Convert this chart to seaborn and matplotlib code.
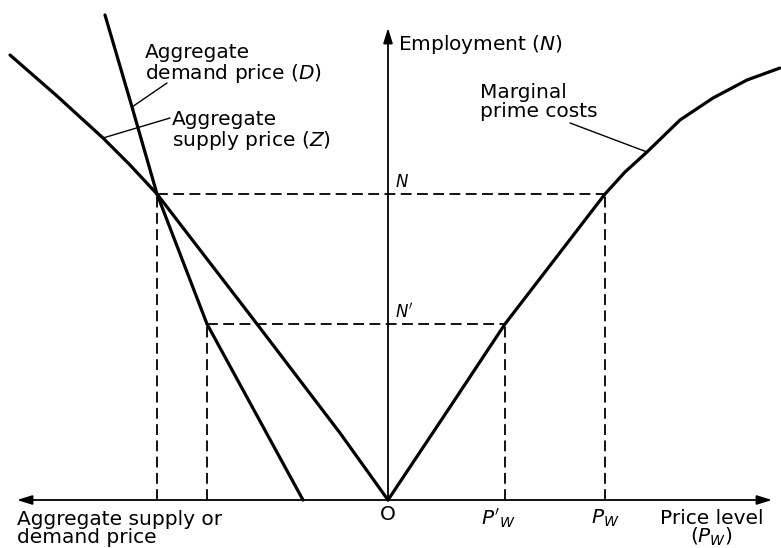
import numpy as np
import pandas as pd
import seaborn as sns
import matplotlib.pyplot as plt

# curve readings (x: price, left negative = aggregate supply/demand price; y: employment)
d_x = [-2.83, -2.56, -2.31, -2.06, -1.81, -1.33, -0.85]
d_y = [4.85, 3.93, 3.06, 2.41, 1.76, 0.88, 0.0]

z_x = [-3.78, -3.31, -2.85, -2.58, -2.31, -1.31, -0.48, 0.0]
z_y = [4.45, 4.04, 3.62, 3.35, 3.06, 1.76, 0.67, 0.0]

mpc_x = [0.0, 0.62, 1.17, 1.67, 2.17, 2.37, 2.59, 2.92, 3.25, 3.59, 3.92]
mpc_y = [0.0, 0.93, 1.76, 2.41, 3.06, 3.28, 3.48, 3.80, 4.02, 4.20, 4.32]

# employment levels and matching prices
N, N1 = 3.06, 1.76
P_w, P1_w = 2.17, 1.17
Z_at_N, D_at_N1 = -2.31, -1.81

sns.set_style("white")
plt.rcParams["font.family"] = ["DejaVu Sans"]
plt.rcParams["text.color"] = "black"
plt.rcParams["mathtext.fontset"] = "dejavusans"
plt.rcParams["mathtext.default"] = "it"

fig = plt.figure(figsize=(7.81, 5.48), dpi=100)
ax = fig.add_axes([0, 0, 1, 1])
ax.set_xlim(-3.88, 3.93)
ax.set_ylim(-0.48, 5.0)
ax.axis("off")

curves = pd.concat([
    pd.DataFrame({"x": d_x, "y": d_y, "curve": "D"}),
    pd.DataFrame({"x": z_x, "y": z_y, "curve": "Z"}),
    pd.DataFrame({"x": mpc_x, "y": mpc_y, "curve": "MPC"}),
])
sns.lineplot(data=curves, x="x", y="y", units="curve", estimator=None, sort=False,
             color="black", lw=2.3, ax=ax, legend=False)

# dashed guides
dash = dict(color="black", lw=1.3, ls=(0, (6, 3)))
ax.plot([Z_at_N, P_w], [N, N], **dash)
ax.plot([D_at_N1, P1_w], [N1, N1], **dash)
for xv, yv in [(Z_at_N, N), (D_at_N1, N1), (P1_w, N1), (P_w, N)]:
    ax.plot([xv, xv], [0, yv], **dash)

# axes with arrows
arr = dict(arrowstyle="-|>,head_length=0.45,head_width=0.14", color="black", lw=1.3,
           mutation_scale=20, shrinkA=0, shrinkB=0)
ax.annotate("", xy=(3.84, 0), xytext=(0, 0), arrowprops=arr)
ax.annotate("", xy=(-3.71, 0), xytext=(0, 0), arrowprops=arr)
ax.annotate("", xy=(0, 4.72), xytext=(0, 0), arrowprops=arr)

fs = 14.5
ls = 0.95
ax.text(0.10, 4.55, "Employment $(N)$", fontsize=fs, va="center", ha="left")
ax.text(-2.43, 4.36, "Aggregate\ndemand price $(D)$", fontsize=fs, va="center", ha="left",
        linespacing=ls)
ax.text(-2.16, 3.69, "Aggregate\nsupply price $(Z)$", fontsize=fs, va="center", ha="left",
        linespacing=ls)
ax.text(0.92, 3.98, "Marginal\nprime costs", fontsize=fs, va="center", ha="left",
        linespacing=ls)

# leader lines
lead = dict(color="black", lw=1.0)
ax.plot([-2.21, -2.56], [4.17, 3.93], **lead)
ax.plot([-2.18, -2.85], [3.82, 3.62], **lead)
ax.plot([1.82, 2.59], [3.77, 3.48], **lead)

ax.text(0.07, N + 0.12, "$N$", fontsize=12, va="center", ha="left")
ax.text(0.07, N1 + 0.12, "$N'$", fontsize=12, va="center", ha="left")
ax.text(0.0, -0.15, "O", fontsize=fs, va="center", ha="center")
ax.text(P1_w - 0.07, -0.18, "$P'_W$", fontsize=fs, va="center", ha="center")
ax.text(P_w, -0.18, "$P_W$", fontsize=fs, va="center", ha="center")
ax.text(2.72, -0.18, "Price level", fontsize=fs, va="center", ha="left")
ax.text(3.23, -0.37, "$(P_W)$", fontsize=fs, va="center", ha="center")
ax.text(-3.71, -0.285, "Aggregate supply or\ndemand price", fontsize=fs, va="center",
        ha="left", linespacing=0.93)

fig.savefig("out.png", dpi=100)
